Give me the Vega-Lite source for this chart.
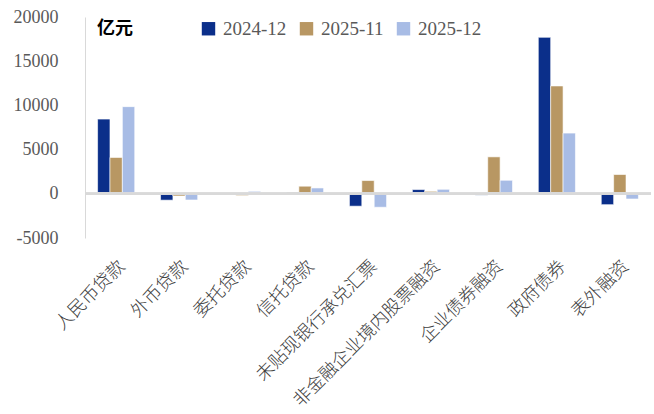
{
  "$schema": "https://vega.github.io/schema/vega-lite/v6.json",
  "width": 566,
  "height": 221,
  "autosize": {"type": "none"},
  "padding": {"left": 85, "top": 17, "right": 3, "bottom": 176},
  "background": "white",
  "config": {"view": {"stroke": null}},
  "data": {"values": [
    {"cat": "人民币贷款", "series": "2024-12", "v": 8450},
    {"cat": "人民币贷款", "series": "2025-11", "v": 4110},
    {"cat": "人民币贷款", "series": "2025-12", "v": 9860},
    {"cat": "外币贷款", "series": "2024-12", "v": -720},
    {"cat": "外币贷款", "series": "2025-11", "v": -250},
    {"cat": "外币贷款", "series": "2025-12", "v": -700},
    {"cat": "委托贷款", "series": "2024-12", "v": -30},
    {"cat": "委托贷款", "series": "2025-11", "v": -200},
    {"cat": "委托贷款", "series": "2025-12", "v": 280},
    {"cat": "信托贷款", "series": "2024-12", "v": 170},
    {"cat": "信托贷款", "series": "2025-11", "v": 860},
    {"cat": "信托贷款", "series": "2025-12", "v": 660},
    {"cat": "未贴现银行承兑汇票", "series": "2024-12", "v": -1400},
    {"cat": "未贴现银行承兑汇票", "series": "2025-11", "v": 1500},
    {"cat": "未贴现银行承兑汇票", "series": "2025-12", "v": -1520},
    {"cat": "非金融企业境内股票融资", "series": "2024-12", "v": 480},
    {"cat": "非金融企业境内股票融资", "series": "2025-11", "v": 280},
    {"cat": "非金融企业境内股票融资", "series": "2025-12", "v": 510},
    {"cat": "企业债券融资", "series": "2024-12", "v": -150},
    {"cat": "企业债券融资", "series": "2025-11", "v": 4180},
    {"cat": "企业债券融资", "series": "2025-12", "v": 1530},
    {"cat": "政府债券", "series": "2024-12", "v": 17700},
    {"cat": "政府债券", "series": "2025-11", "v": 12200},
    {"cat": "政府债券", "series": "2025-12", "v": 6870},
    {"cat": "表外融资", "series": "2024-12", "v": -1230},
    {"cat": "表外融资", "series": "2025-11", "v": 2180},
    {"cat": "表外融资", "series": "2025-12", "v": -590}
  ]},
  "layer": [
    {
      "mark": {"type": "bar", "stroke": "white", "strokeWidth": 0.6},
      "encoding": {
        "x": {
          "field": "cat", "type": "nominal", "sort": null,
          "scale": {"paddingInner": 0.41, "paddingOuter": 0.2},
          "axis": {
            "title": null, "domain": false, "ticks": false,
            "labelAngle": -45, "labelPadding": 19,
            "labelFont": "Noto Sans CJK SC", "labelFontSize": 18,
            "labelColor": "#404040", "labelFontWeight": 300,
            "labelLimit": 300
          }
        },
        "xOffset": {"field": "series", "type": "nominal", "sort": null, "scale": {"paddingInner": 0}},
        "y": {
          "field": "v", "type": "quantitative",
          "scale": {"domain": [-5000, 20000], "nice": false, "zero": false},
          "axis": {
            "title": null, "grid": false, "ticks": false,
            "labelExpr": "'' + datum.value",
            "values": [-5000, 0, 5000, 10000, 15000, 20000],
            "domain": true, "domainColor": "#d9d9d9", "domainWidth": 1,
            "labelPadding": 27, "labelFont": "Liberation Serif",
            "labelFontSize": 18, "labelColor": "#595959"
          }
        },
        "color": {
          "field": "series", "type": "nominal", "sort": null,
          "scale": {"domain": ["2024-12", "2025-11", "2025-12"], "range": ["#0b2f8a", "#b89763", "#a8bce5"]},
          "legend": {
            "title": "亿元", "orient": "none", "legendX": 12, "legendY": 2,
            "direction": "horizontal", "titleOrient": "left",
            "titleFont": "Noto Sans CJK SC", "titleFontWeight": "bold",
            "titleFontSize": 18, "titleColor": "#000000", "titlePadding": 66,
            "titleAnchor": "middle", "titleBaseline": "middle",
            "symbolType": "square", "symbolSize": 180, "symbolStrokeWidth": 0,
            "labelFont": "Liberation Serif", "labelFontSize": 19, "labelColor": "#595959",
            "labelOffset": 5, "columnPadding": 10
          }
        }
      }
    },
    {
      "mark": {"type": "rule", "color": "#d9d9d9", "strokeWidth": 2},
      "encoding": {"y": {"datum": 0}}
    }
  ]
}
